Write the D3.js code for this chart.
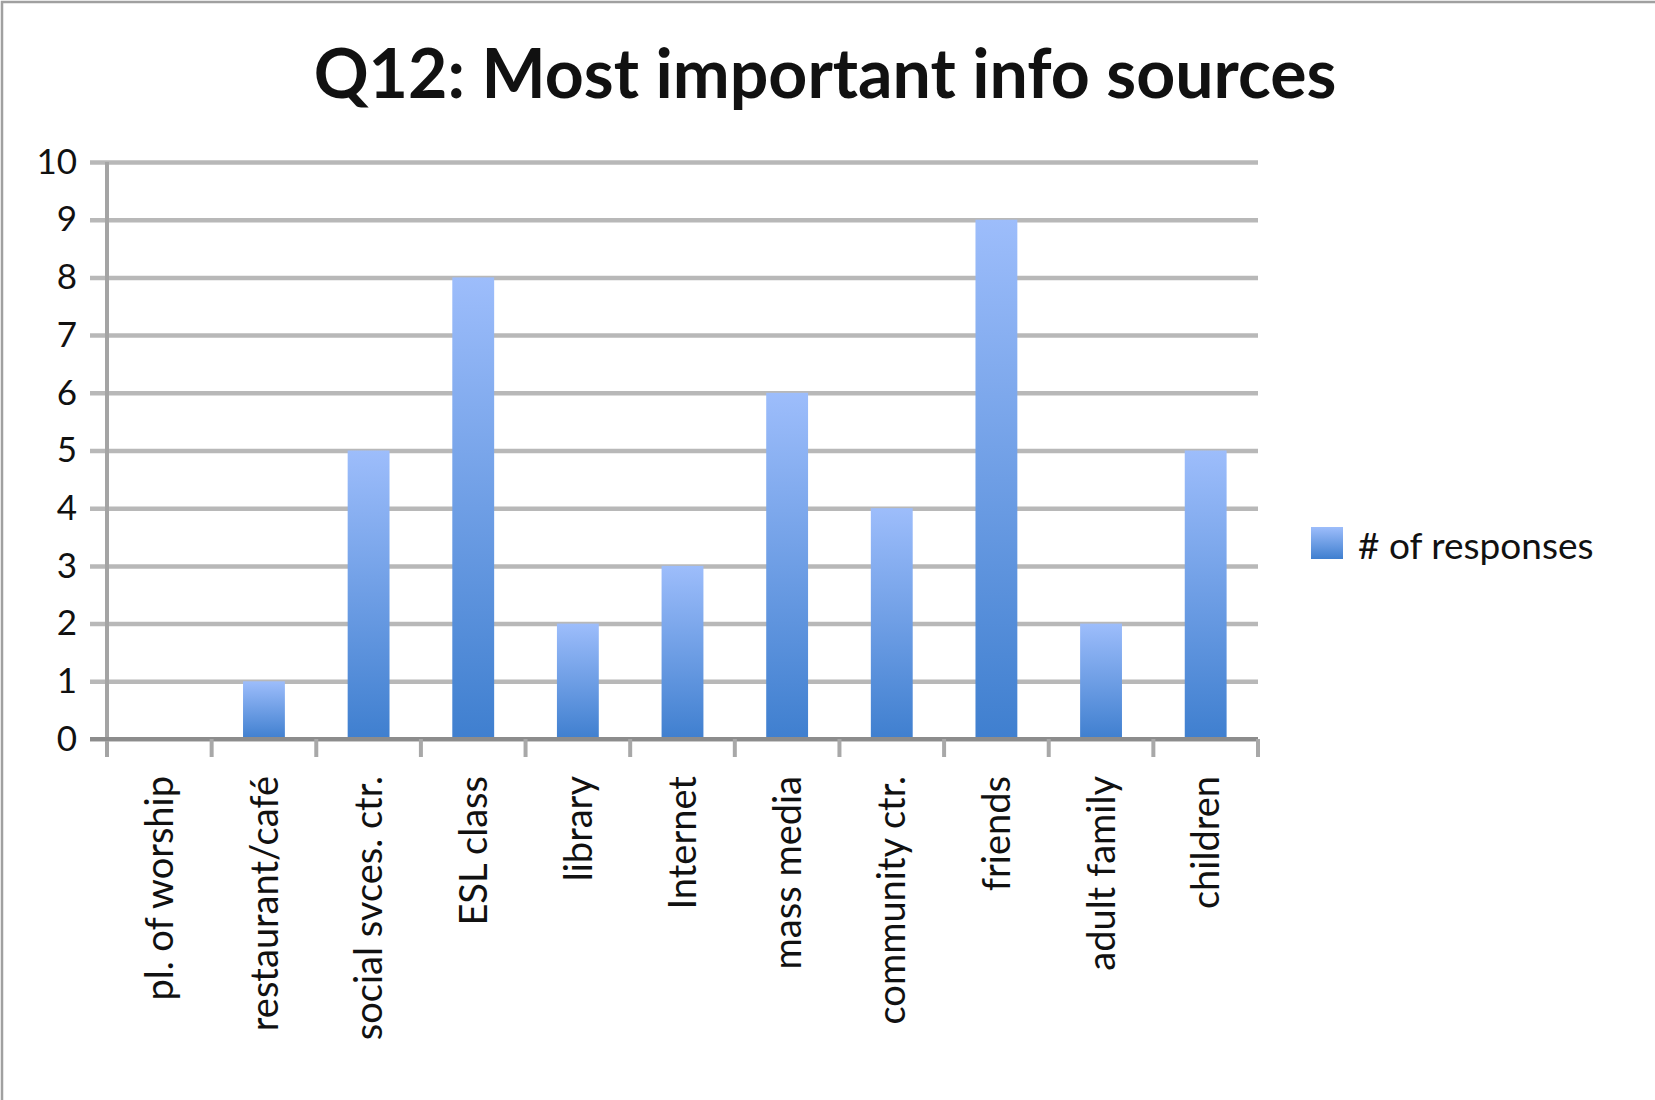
<!DOCTYPE html>
<html>
<head>
<meta charset="utf-8">
<script src="https://cdn.jsdelivr.net/npm/d3@7"></script>
<style>
  html, body { margin: 0; padding: 0; background: #ffffff; }
  svg { display: block; }
  text { font-family: Lato, "Open Sans", sans-serif; fill: #111; }
</style>
</head>
<body>
<svg id="chart" width="1655" height="1100"></svg>
<script>
// Survey question 12: sources of information named as most important
const categories = [
  "pl. of worship", "restaurant/café", "social svces. ctr.", "ESL class",
  "library", "Internet", "mass media", "community ctr.", "friends",
  "adult family", "children"
];
const responses = [0, 1, 5, 8, 2, 3, 6, 4, 9, 2, 5];
const yTicks = [0, 1, 2, 3, 4, 5, 6, 7, 8, 9, 10];
const seriesName = "# of responses";
const chartTitle = "Q12: Most important info sources";

const svg = d3.select("#chart");
const W = 1655, H = 1100;

// plot area
const plot = { left: 107, right: 1258, top: 162, bottom: 739 };

// outer frame (only top and left edges fall inside the canvas)
svg.append("rect")
  .attr("x", 2).attr("y", 2)
  .attr("width", W + 10).attr("height", H + 10)
  .attr("fill", "none").attr("stroke", "#a0a0a0").attr("stroke-width", 2.5);

// bar fill: light blue at top fading to deeper blue at bottom
const defs = svg.append("defs");
const grad = defs.append("linearGradient")
  .attr("id", "barFill").attr("x1", 0).attr("y1", 0).attr("x2", 0).attr("y2", 1);
grad.append("stop").attr("offset", "0%").attr("stop-color", "#9dbdfb");
grad.append("stop").attr("offset", "100%").attr("stop-color", "#3f7fcf");

const x = d3.scaleBand().domain(categories).range([plot.left, plot.right]).padding(0);
const y = d3.scaleLinear().domain([0, 10]).range([plot.bottom, plot.top]);

// horizontal gridlines + y labels
const gridLeft = plot.left - 17;
const yAxis = d3.axisLeft(y)
  .tickValues(yTicks)
  .tickFormat(d3.format("d"))
  .tickSizeInner(-(plot.right - gridLeft))
  .tickSizeOuter(0)
  .tickPadding(13);
const gy = svg.append("g")
  .attr("transform", `translate(${gridLeft},0)`)
  .call(yAxis);
gy.select(".domain").remove();
gy.selectAll(".tick line")
  .attr("stroke", "#b8b8b8").attr("stroke-width", 4.5);
gy.selectAll(".tick text")
  .style("font-size", "35px").attr("fill", "#111");

// bars
const barW = x.step() * 0.4;
svg.append("g").selectAll("rect")
  .data(categories.map((c, i) => ({ c, v: responses[i] })))
  .join("rect")
  .attr("x", d => x(d.c) + x.bandwidth() / 2 - barW / 2)
  .attr("y", d => y(d.v))
  .attr("width", barW)
  .attr("height", d => y(0) - y(d.v))
  .attr("fill", "url(#barFill)");

// vertical axis line
svg.append("line")
  .attr("x1", plot.left).attr("x2", plot.left)
  .attr("y1", y(10)).attr("y2", plot.bottom + 18)
  .attr("stroke", "#a4a4a4").attr("stroke-width", 4);

// baseline
svg.append("line")
  .attr("x1", gridLeft).attr("x2", plot.right)
  .attr("y1", y(0)).attr("y2", y(0))
  .attr("stroke", "#8c8c8c").attr("stroke-width", 4);

// category separators below the baseline
const seps = categories.map(c => x(c)).concat([plot.right]);
svg.append("g").selectAll("line")
  .data(seps.slice(1))
  .join("line")
  .attr("x1", d => d).attr("x2", d => d)
  .attr("y1", y(0)).attr("y2", plot.bottom + 18)
  .attr("stroke", "#a8a8a8").attr("stroke-width", 4);

// category labels, rotated to read bottom-to-top
const xAxis = d3.axisBottom(x).tickSize(0).tickPadding(0);
const gx = svg.append("g")
  .attr("transform", `translate(0,${plot.bottom})`)
  .call(xAxis);
gx.select(".domain").remove();
gx.selectAll(".tick text")
  .style("font-size", "38px")
  .attr("fill", "#111")
  .attr("text-anchor", "end")
  .attr("transform", "rotate(-90)")
  .attr("x", -37)
  .attr("y", 0)
  .attr("dy", "0.36em");

// legend
const lg = svg.append("g").attr("transform", "translate(1311,527)");
lg.append("rect").attr("width", 32).attr("height", 32).attr("fill", "url(#barFill)");
lg.append("text")
  .attr("x", 47).attr("y", 19).attr("dy", "0.35em")
  .style("font-size", "37px")
  .text(seriesName);

// title
svg.append("text")
  .attr("x", 825).attr("y", 98)
  .attr("text-anchor", "middle")
  .style("font-size", "68px").style("font-weight", "bold")
  .attr("fill", "#000")
  .text(chartTitle);
</script>
</body>
</html>
